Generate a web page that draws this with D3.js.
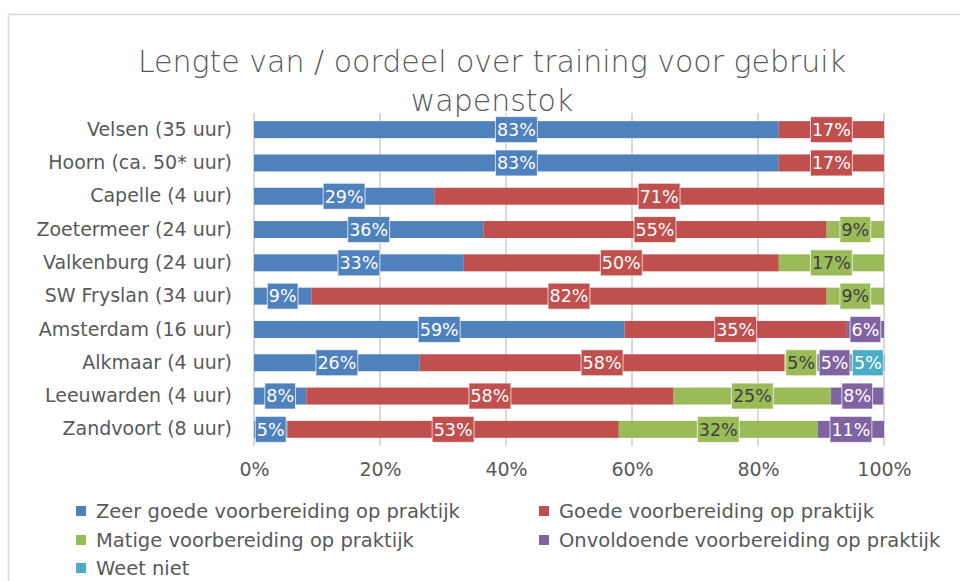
<!DOCTYPE html>
<html>
<head>
<meta charset="utf-8">
<script src="https://cdnjs.cloudflare.com/ajax/libs/d3/7.8.5/d3.min.js"></script>
<style>
  body { margin: 0; background: #fff; }
  svg { font-family: "DejaVu Sans", sans-serif; }
</style>
</head>
<body>
<div id="chart"></div>
<script>
// categories, top to bottom
const categories = [
    "Velsen (35 uur)", "Hoorn (ca. 50* uur)", "Capelle (4 uur)", "Zoetermeer (24 uur)",
    "Valkenburg (24 uur)", "SW Fryslan (34 uur)", "Amsterdam (16 uur)", "Alkmaar (4 uur)",
    "Leeuwarden (4 uur)", "Zandvoort (8 uur)"
];
// percentages per series
const zeerGoede   = [83.3, 83.3, 28.6, 36.4, 33.3, 9.1, 58.8, 26.3, 8.3, 5.3];
const goede       = [16.7, 16.7, 71.4, 54.5, 50.0, 81.8, 35.3, 57.9, 58.3, 52.6];
const matige      = [0, 0, 0, 9.1, 16.7, 9.1, 0, 5.3, 25.0, 31.6];
const onvoldoende = [0, 0, 0, 0, 0, 0, 5.9, 5.3, 8.3, 10.5];
const weetNiet    = [0, 0, 0, 0, 0, 0, 0, 5.3, 0, 0];

const seriesNames = [
    "Zeer goede voorbereiding op praktijk",
    "Goede voorbereiding op praktijk",
    "Matige voorbereiding op praktijk",
    "Onvoldoende voorbereiding op praktijk",
    "Weet niet"
];
const xTicks = [0, 20, 40, 60, 80, 100];

const colors = ["#4F81BD", "#C0504D", "#9BBB59", "#8064A2", "#4BACC6"];
const labelColors = ["#fff", "#fff", "#404040", "#fff", "#fff"];

const width = 960, height = 581;
const margin = { top: 113, left: 254, right: 76, bottom: 135 };

const allSeries = [zeerGoede, goede, matige, onvoldoende, weetNiet];
const data = categories.map((c, i) => {
    const row = { category: c };
    seriesNames.forEach((s, j) => row[s] = allSeries[j][i]);
    return row;
});

const stacked = d3.stack().keys(seriesNames)(data);

const svg = d3.select("#chart").append("svg")
    .attr("width", width)
    .attr("height", height);

// chart border
svg.append("rect")
    .attr("x", 8.5).attr("y", 14.5)
    .attr("width", 1000).attr("height", 700)
    .attr("fill", "none")
    .attr("stroke", "#d9d9d9")
    .attr("stroke-width", 1.5);

const x = d3.scaleLinear()
    .domain([0, 100])
    .range([margin.left, width - margin.right]);

const y = d3.scaleBand()
    .domain(categories)
    .range([margin.top, height - margin.bottom])
    .paddingInner(0.49)
    .paddingOuter(0.245);

// gridlines
svg.append("g")
    .selectAll("line")
    .data(xTicks)
    .join("line")
    .attr("x1", d => x(d)).attr("x2", d => x(d))
    .attr("y1", margin.top).attr("y2", height - margin.bottom)
    .attr("stroke", "#d9d9d9")
    .attr("stroke-width", 2);

// title
const title = svg.append("text")
    .attr("text-anchor", "middle")
    .attr("fill", "#595959")
    .attr("font-size", 30)
    .attr("font-weight", 200);
title.append("tspan").attr("x", 492).attr("y", 72)
    .text("Lengte van / oordeel over training voor gebruik");
title.append("tspan").attr("x", 492).attr("y", 111)
    .text("wapenstok");

// bars
const groups = svg.append("g")
    .selectAll("g")
    .data(stacked)
    .join("g")
    .attr("fill", (d, i) => colors[i]);

groups.selectAll("rect")
    .data(d => d)
    .join("rect")
    .attr("x", d => x(d[0]))
    .attr("y", d => y(d.data.category))
    .attr("width", d => x(d[1]) - x(d[0]))
    .attr("height", y.bandwidth());

// data labels with filled boxes
const labels = svg.append("g")
    .selectAll("g")
    .data(stacked)
    .join("g");

labels.each(function (s, i) {
    const pts = s.filter(d => d[1] - d[0] > 0);
    const lg = d3.select(this).selectAll("g")
        .data(pts)
        .join("g")
        .attr("transform", d => `translate(${(x(d[0]) + x(d[1])) / 2},${y(d.data.category) + y.bandwidth() / 2})`);
    lg.append("text")
        .attr("text-anchor", "middle")
        .attr("dy", "0.36em")
        .attr("font-size", 17.5)
        .attr("fill", labelColors[i])
        .text(d => Math.round(d[1] - d[0]) + "%");
    lg.insert("rect", "text")
        .each(function () {
            const w = this.nextSibling.getComputedTextLength() + 3;
            d3.select(this)
                .attr("x", -w / 2).attr("y", -13)
                .attr("width", w).attr("height", 26);
        })
        .attr("fill", colors[i])
        .attr("stroke", "rgba(255,255,255,0.7)")
        .attr("stroke-width", 1);
});

// y axis labels
const yAxis = d3.axisLeft(y).tickSize(0).tickPadding(22);
svg.append("g")
    .attr("transform", `translate(${margin.left},0)`)
    .call(yAxis)
    .call(g => g.select(".domain").remove())
    .call(g => g.selectAll("text")
        .attr("font-size", 19)
        .attr("font-family", "DejaVu Sans, sans-serif")
        .attr("fill", "#595959"));

// x axis labels
const xAxis = d3.axisBottom(x).tickValues(xTicks).tickSize(0).tickPadding(17)
    .tickFormat(d => d + "%");
svg.append("g")
    .attr("transform", `translate(0,${height - margin.bottom})`)
    .call(xAxis)
    .call(g => g.select(".domain").remove())
    .call(g => g.selectAll("text")
        .attr("font-size", 19)
        .attr("font-family", "DejaVu Sans, sans-serif")
        .attr("fill", "#595959"));

// legend
const legendPos = [[76, 511], [539, 511], [76, 540], [539, 540], [76, 568]];
const legend = svg.append("g")
    .selectAll("g")
    .data(seriesNames)
    .join("g")
    .attr("transform", (d, i) => `translate(${legendPos[i][0]},${legendPos[i][1]})`);
legend.append("rect")
    .attr("x", 0).attr("y", -5)
    .attr("width", 10).attr("height", 10)
    .attr("fill", (d, i) => colors[i]);
legend.append("text")
    .attr("x", 20)
    .attr("dy", "0.35em")
    .attr("font-size", 19.5)
    .attr("fill", "#595959")
    .text(d => d);
</script>
</body>
</html>
